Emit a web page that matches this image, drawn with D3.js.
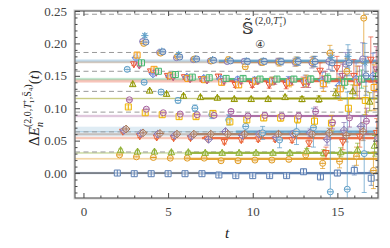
<!DOCTYPE html>
<html>
<head>
<meta charset="utf-8">
<script src="https://cdn.jsdelivr.net/npm/d3@7"></script>
<style>
body { margin: 0; background: #fff; }
</style>
</head>
<body>
<div id="chart"></div>
<script>
// time slices, every series has one point per slice (t = 2 ... 17)
const tSteps = d3.range(2, 18)

// non-interacting levels (dashed)
const freeLevels = [0.0325, 0.0635, 0.094, 0.126, 0.157, 0.186, 0.245]

// fitted levels: value, error, start of fit range
const fitLevels = [0.000, 0.022, 0.031, 0.054, 0.060, 0.064, 0.088, 0.115, 0.142, 0.145, 0.171, 0.173]
const fitErrors = [0.002, 0.0015, 0.0015, 0.002, 0.002, 0.0075, 0.002, 0.0015, 0.003, 0.002, 0.002, 0.003]
const fitStarts = [7, 6, 6, 7, 6.5, 9, 8.5, 7, 8, 8, 8, 8]

// effective energies per series
const blueSq = [0.000, -0.001, -0.001, -0.001, -0.001, -0.001, -0.003, -0.004, -0.004, -0.004, -0.004, 0.002, -0.006, 0.000, 0.004, -0.008]
const blueSqErr = [.001, .001, .001, .001, .001, .001, .001, .001, .001, .002, .002, .003, .003, .004, .007, .011]
const orangeCirc = [0.028, 0.025, 0.024, 0.023, 0.023, 0.023, 0.019, 0.019, 0.020, 0.020, 0.021, 0.028, 0.015, 0.018, 0.026, 0.004]
const orangeCircErr = [.002, .002, .002, .002, .002, .002, .002, .002, .002, .003, .003, .006, .008, .010, .014, .028]
const greenTri = [0.035, 0.033, 0.033, 0.032, 0.032, 0.031, 0.031, 0.031, 0.031, 0.031, 0.031, 0.034, 0.031, 0.032, 0.036, 0.042]
const greenTriErr = [.002, .002, .002, .002, .002, .002, .002, .002, .002, .002, .003, .004, .005, .007, .010, .016]
const redDown = [0.064, 0.057, 0.055, 0.054, 0.054, 0.053, 0.048, 0.051, 0.052, 0.052, 0.051, 0.046, 0.031, 0.048, 0.056, 0.062]
const redDownErr = [.002, .002, .002, .002, .002, .002, .003, .003, .003, .003, .004, .005, .009, .012, .016, .022]
const purpleDia = [0.066, 0.061, 0.060, 0.058, 0.057, 0.052, 0.064, 0.058, 0.060, 0.055, 0.060, 0.062, 0.052, 0.066, 0.072, 0.054]
const purpleDiaErr = [.002, .002, .002, .002, .002, .003, .003, .003, .004, .004, .005, .006, .009, .012, .016, .024]
const brownDia = [0.068, 0.062, 0.061, 0.060, 0.060, 0.060, 0.060, 0.060, 0.060, 0.060, 0.061, 0.060, 0.062, 0.058, 0.064, 0.058]
const brownDiaErr = [.002, .002, .002, .002, .002, .002, .002, .003, .003, .003, .004, .005, .007, .010, .014, .020]
const skyCirc = [0.160, 0.140, 0.125, 0.112, 0.100, 0.090, 0.082, 0.072, 0.062, 0.051, 0.064, 0.070, -0.029, -0.025, 0.030, 0.050]
const skyCircErr = [.003, .003, .004, .004, .005, .006, .008, .010, .010, .012, .020, .030, .090, .150, .060, .080]
const yellowSq = [0.102, 0.093, 0.090, 0.087, 0.087, 0.092, 0.079, 0.082, 0.085, 0.085, 0.083, 0.080, 0.077, 0.100, 0.112, 0.088]
const yellowSqErr = [.002, .002, .002, .002, .003, .003, .003, .004, .004, .005, .006, .008, .012, .016, .022, .035]
const magentaCirc = [0.113, 0.0985, 0.093, 0.091, 0.090, 0.089, 0.095, 0.088, 0.089, 0.088, 0.088, 0.095, 0.078, 0.085, 0.080, 0.092]
const magentaCircErr = [.002, .002, .002, .002, .002, .003, .003, .003, .004, .004, .005, .007, .010, .014, .020, .030]
const oliveTri = [0.137, 0.127, 0.122, 0.119, 0.117, 0.116, 0.114, 0.114, 0.114, 0.117, 0.114, 0.114, 0.123, 0.126, 0.110, 0.130]
const oliveTriErr = [.002, .002, .002, .002, .002, .002, .002, .003, .003, .003, .004, .005, .007, .010, .014, .020]
const redDown2 = [0.168, 0.157, 0.150, 0.148, 0.145, 0.149, 0.136, 0.136, 0.136, 0.136, 0.140, 0.158, 0.162, 0.150, 0.175, 0.120]
const redDown2Err = [.002, .002, .002, .003, .003, .003, .004, .004, .005, .006, .008, .012, .018, .025, .035, .050]
const blueDia = [0.178, 0.153, 0.150, 0.148, 0.146, 0.145, 0.144, 0.143, 0.142, 0.142, 0.142, 0.143, 0.135, 0.145, 0.150, 0.155]
const blueDiaErr = [.003, .003, .003, .003, .003, .004, .004, .005, .006, .007, .009, .012, .018, .025, .035, .050]
const orangeSq = [0.182, 0.160, 0.150, 0.146, 0.144, 0.140, 0.136, 0.142, 0.142, 0.140, 0.142, 0.138, 0.130, 0.140, 0.132, 0.145]
const orangeSqErr = [.003, .003, .003, .003, .003, .004, .004, .005, .006, .007, .009, .012, .018, .025, .035, .050]
const pinkDown = [0.166, 0.155, 0.148, 0.145, 0.143, 0.142, 0.142, 0.142, 0.142, 0.142, 0.140, 0.145, 0.150, 0.140, 0.160, 0.130]
const pinkDownErr = [.002, .002, .002, .003, .003, .003, .004, .004, .005, .006, .008, .012, .018, .025, .035, .050]
const greenSq = [0.170, 0.157, 0.152, 0.148, 0.147, 0.146, 0.146, 0.145, 0.145, 0.145, 0.145, 0.146, 0.140, 0.145, 0.150, 0.140]
const greenSqErr = [.002, .002, .002, .002, .002, .002, .003, .003, .003, .004, .005, .007, .010, .014, .020, .030]
const purpleCirc = [0.203, 0.186, 0.178, 0.175, 0.173, 0.172, 0.172, 0.171, 0.172, 0.171, 0.170, 0.172, 0.168, 0.176, 0.160, 0.172]
const purpleCircErr = [.003, .003, .003, .003, .003, .003, .004, .004, .005, .006, .008, .012, .018, .025, .035, .050]
const orangeTop = [0.200, 0.185, 0.180, 0.176, 0.173, 0.175, 0.164, 0.171, 0.171, 0.172, 0.172, 0.185, 0.157, 0.239, 0.160, 0.180]
const orangeTopErr = [.003, .003, .003, .003, .003, .004, .004, .005, .006, .007, .008, .012, .020, .070, .045, .060]
const skyStar = [0.212, 0.188, 0.183, 0.176, 0.175, 0.174, 0.173, 0.173, 0.172, 0.173, 0.172, 0.178, 0.180, 0.170, 0.185, 0.165]
const skyStarErr = [.003, .003, .003, .003, .003, .003, .004, .004, .005, .006, .008, .012, .018, .030, .045, .060]
const blueCirc = [0.202, 0.187, 0.179, 0.176, 0.174, 0.173, 0.172, 0.172, 0.172, 0.172, 0.172, 0.170, 0.170, 0.150, 0.175, 0.180]
const blueCircErr = [.003, .003, .003, .003, .003, .003, .004, .004, .005, .006, .008, .012, .020, .030, .045, .060]

const series = [
    {vals: blueSq, errs: blueSqErr, slot: 0, color: "#5E81B5", mark: "square"},
    {vals: orangeCirc, errs: orangeCircErr, slot: 2, color: "#E19C24", mark: "circle"},
    {vals: greenTri, errs: greenTriErr, slot: 3, color: "#8FB032", mark: "up"},
    {vals: redDown, errs: redDownErr, slot: 5, color: "#EB6235", mark: "down"},
    {vals: purpleDia, errs: purpleDiaErr, slot: 6, color: "#8778B3", mark: "diamond"},
    {vals: brownDia, errs: brownDiaErr, slot: 8, color: "#A97A5C", mark: "diamond"},
    {vals: skyCirc, errs: skyCircErr, slot: 9, color: "#5D9EC7", mark: "circle"},
    {vals: yellowSq, errs: yellowSqErr, slot: 10, color: "#EDB200", mark: "square"},
    {vals: magentaCirc, errs: magentaCircErr, slot: 11, color: "#A5609D", mark: "circle"},
    {vals: oliveTri, errs: oliveTriErr, slot: 14, color: "#929600", mark: "up"},
    {vals: redDown2, errs: redDown2Err, slot: 15, color: "#E95536", mark: "down"},
    {vals: blueDia, errs: blueDiaErr, slot: 17, color: "#6685D9", mark: "diamond"},
    {vals: orangeSq, errs: orangeSqErr, slot: 18, color: "#F89F13", mark: "square"},
    {vals: pinkDown, errs: pinkDownErr, slot: 20, color: "#BC5B80", mark: "down"},
    {vals: greenSq, errs: greenSqErr, slot: 22, color: "#47B66D", mark: "square"},
    {vals: purpleCirc, errs: purpleCircErr, slot: 23, color: "#8778B3", mark: "circle"},
    {vals: orangeTop, errs: orangeTopErr, slot: 24, color: "#E19C24", mark: "circle"},
    {vals: skyStar, errs: skyStarErr, slot: 25, color: "#5D9EC7", mark: "star"},
    {vals: blueCirc, errs: blueCircErr, slot: 26, color: "#5E81B5", mark: "circle"}
]
const fitColors = ["#5E81B5", "#E19C24", "#8FB032", "#EB6235", "#A97A5C", "#5D9EC7", "#A5609D", "#929600", "#E95536", "#47B66D", "#B98A64", "#5D9EC7"]

const serif = "'Liberation Serif', 'Times New Roman', serif"

const outerWidth = 390
const outerHeight = 248
const margin = {top: 11, right: 12, bottom: 50, left: 75}
const w = outerWidth - margin.left - margin.right
const h = outerHeight - margin.top - margin.bottom

const svg = d3.select("#chart")
    .append("svg")
    .attr("width", outerWidth)
    .attr("height", outerHeight)

const g = svg.append("g")
    .attr("transform", `translate(${margin.left}, ${margin.top})`)

g.append("clipPath")
    .attr("id", "clip")
    .append("rect")
    .attr("width", w)
    .attr("height", h)

const xScale = d3.scaleLinear().domain([-0.5, 17.4]).range([0, w])
const yScale = d3.scaleLinear().domain([-0.0385, 0.25]).range([h, 0])

const plot = g.append("g").attr("clip-path", "url(#clip)")

const fits = fitLevels.map((v, i) => ({v, e: fitErrors[i], from: fitStarts[i], color: fitColors[i]}))

// error bands across the whole plot
plot.selectAll(".band")
    .data(fits)
    .enter()
    .append("rect")
    .attr("class", "band")
    .attr("x", 0)
    .attr("width", w)
    .attr("y", d => yScale(d.v + d.e))
    .attr("height", d => yScale(d.v - d.e) - yScale(d.v + d.e))
    .attr("fill", d => d.color)
    .attr("opacity", 0.2)

plot.selectAll(".fitline")
    .data(fits)
    .enter()
    .append("line")
    .attr("class", "fitline")
    .attr("x1", 0).attr("x2", w)
    .attr("y1", d => yScale(d.v)).attr("y2", d => yScale(d.v))
    .attr("stroke", d => d.color)
    .attr("stroke-width", 1)
    .attr("opacity", 0.35)

// axis line at zero
plot.append("line")
    .attr("x1", 0).attr("x2", w)
    .attr("y1", yScale(0)).attr("y2", yScale(0))
    .attr("stroke", "#3b3b3b")
    .attr("stroke-width", 1)

plot.selectAll(".free")
    .data(freeLevels)
    .enter()
    .append("line")
    .attr("class", "free")
    .attr("x1", 0).attr("x2", w)
    .attr("y1", d => yScale(d)).attr("y2", d => yScale(d))
    .attr("stroke", "#9a9a9a")
    .attr("stroke-width", 1)
    .attr("stroke-dasharray", "5,3.5")

plot.selectAll(".fitrange")
    .data(fits)
    .enter()
    .append("line")
    .attr("class", "fitrange")
    .attr("x1", d => xScale(d.from)).attr("x2", w)
    .attr("y1", d => yScale(d.v)).attr("y2", d => yScale(d.v))
    .attr("stroke", d => d.color)
    .attr("stroke-width", 2.2)
    .attr("opacity", 0.85)

// marker shapes
function markPath(kind, r) {
    if (kind === "square") return `M${-r},${-r}H${r}V${r}H${-r}Z M0,${-r}V${r}`
    if (kind === "circle") return `M${r},0A${r},${r} 0 1,1 ${-r},0A${r},${r} 0 1,1 ${r},0Z M${-r},0H${r}`
    if (kind === "up") return `M0,${-r * 1.2}L${r * 1.1},${r * 0.8}L${-r * 1.1},${r * 0.8}Z M0,${-r * 1.2}V${r * 0.8}`
    if (kind === "down") return `M0,${r * 1.2}L${r * 1.1},${-r * 0.8}L${-r * 1.1},${-r * 0.8}Z M0,${r * 1.2}V${-r * 0.8}`
    if (kind === "diamond") return `M0,${-r * 1.3}L${r * 1.3},0L0,${r * 1.3}L${-r * 1.3},0Z M${-r * 1.3},0H${r * 1.3}M0,${-r * 1.3}V${r * 1.3}`
    const s = r * 1.2
    return `M${-s},0H${s}M0,${-s}V${s}M${-s * 0.7},${-s * 0.7}L${s * 0.7},${s * 0.7}M${-s * 0.7},${s * 0.7}L${s * 0.7},${-s * 0.7}`
}

const points = []
series.forEach(s => {
    s.vals.forEach((v, i) => {
        if (v === null) return
        points.push({t: tSteps[i] + s.slot * 0.065, v, e: s.errs[i], color: s.color, mark: s.mark})
    })
})

plot.selectAll(".err")
    .data(points)
    .enter()
    .append("path")
    .attr("class", "err")
    .attr("d", d => {
        const x = xScale(d.t), y0 = yScale(d.v - d.e), y1 = yScale(d.v + d.e)
        return `M${x},${y0}V${y1}M${x - 2.5},${y0}H${x + 2.5}M${x - 2.5},${y1}H${x + 2.5}`
    })
    .attr("stroke", d => d.color)
    .attr("stroke-width", 0.9)
    .attr("fill", "none")
    .attr("opacity", 0.8)

plot.selectAll(".pt")
    .data(points)
    .enter()
    .append("path")
    .attr("class", "pt")
    .attr("transform", d => `translate(${xScale(d.t)}, ${yScale(d.v)})`)
    .attr("d", d => markPath(d.mark, 3))
    .attr("fill", "#fff")
    .attr("fill-opacity", 0.55)
    .attr("stroke", d => d.color)
    .attr("stroke-width", 1)

// frame
g.append("rect")
    .attr("x", -0.5).attr("y", -0.5)
    .attr("width", w + 1)
    .attr("height", h + 1)
    .attr("fill", "none")
    .attr("stroke", "#d4d4d4")
    .attr("stroke-width", 2)
g.append("rect")
    .attr("width", w)
    .attr("height", h)
    .attr("fill", "none")
    .attr("stroke", "#555")
    .attr("stroke-width", 1)

const yMajor = d3.range(0, 0.251, 0.05)
const yMinor = d3.range(-0.03, 0.251, 0.01).filter(v => Math.abs(Math.round(v * 100) % 5) !== 0)
const xMajor = [0, 5, 10, 15]
const xMinor = d3.range(0, 18).filter(v => v % 5 !== 0)

function styleAxis(sel) {
    sel.attr("font-family", null).attr("font-size", null)
    sel.select(".domain").remove()
    sel.selectAll("line").attr("stroke", "#4a4a4a")
    sel.selectAll("text")
        .attr("fill", "#444")
        .style("font-size", "13px")
        .style("font-family", serif)
}

g.append("g").call(d3.axisLeft(yScale).tickValues(yMajor).tickSize(-5).tickPadding(8).tickFormat(d3.format(".2f"))).call(styleAxis)
g.append("g").call(d3.axisLeft(yScale).tickValues(yMinor).tickSize(-2.5).tickFormat("")).call(styleAxis)
g.append("g").attr("transform", `translate(${w},0)`).call(d3.axisRight(yScale).tickValues(yMajor).tickSize(-5).tickFormat("")).call(styleAxis)
g.append("g").attr("transform", `translate(${w},0)`).call(d3.axisRight(yScale).tickValues(yMinor).tickSize(-2.5).tickFormat("")).call(styleAxis)
g.append("g").attr("transform", `translate(0,${h})`).call(d3.axisBottom(xScale).tickValues(xMajor).tickSize(-5).tickPadding(9).tickFormat(d3.format("d"))).call(styleAxis)
g.append("g").attr("transform", `translate(0,${h})`).call(d3.axisBottom(xScale).tickValues(xMinor).tickSize(-2.5).tickFormat("")).call(styleAxis)
g.append("g").call(d3.axisTop(xScale).tickValues(xMajor).tickSize(-5).tickFormat("")).call(styleAxis)
g.append("g").call(d3.axisTop(xScale).tickValues(xMinor).tickSize(-2.5).tickFormat("")).call(styleAxis)

// axis titles
svg.append("text")
    .attr("x", 227)
    .attr("y", 238)
    .attr("text-anchor", "middle")
    .style("font-family", serif)
    .style("font-size", "15px")
    .style("font-style", "italic")
    .attr("fill", "#222")
    .text("t")

const yl = svg.append("text")
    .attr("transform", "translate(39,108) rotate(-90)")
    .attr("text-anchor", "middle")
    .style("font-family", serif)
    .style("font-size", "15px")
    .attr("fill", "#222")
yl.append("tspan").text("Δ")
yl.append("tspan").style("font-style", "italic").text("E")
yl.append("tspan").style("font-size", "10px").style("font-style", "italic").attr("dy", 4).text("n")
yl.append("tspan").style("font-size", "10px").attr("dx", -5).attr("dy", -12).text("(2,0,")
yl.append("tspan").style("font-size", "10px").style("font-style", "italic").text("T")
yl.append("tspan").style("font-size", "7px").attr("dy", 3).text("1")
yl.append("tspan").style("font-size", "7px").attr("dx", -3.5).attr("dy", -7).text("+")
yl.append("tspan").style("font-size", "10px").attr("dy", 4).text(",S\u0304")
yl.append("tspan").style("font-size", "7px").attr("dy", 2).text("4")
yl.append("tspan").style("font-size", "10px").attr("dy", -2).text(")")
yl.append("tspan").attr("dy", 8).text("(")
yl.append("tspan").style("font-style", "italic").text("t")
yl.append("tspan").text(")")

// operator annotation
const ann = svg.append("g").attr("fill", "#333")
ann.append("text")
    .attr("x", 242).attr("y", 34)
    .style("font-size", "16px")
    .style("font-family", "'DejaVu Serif', serif")
    .text("\u{1D54A}\u0303")
const annSup = ann.append("text")
    .attr("x", 255).attr("y", 24)
    .style("font-family", serif)
    .style("font-size", "10px")
annSup.append("tspan").text("(2,0,")
annSup.append("tspan").style("font-style", "italic").text("T")
annSup.append("tspan").style("font-size", "7px").attr("dy", 3).text("1")
annSup.append("tspan").style("font-size", "7px").attr("dx", -3.5).attr("dy", -7).text("+")
annSup.append("tspan").attr("dy", 4).text(")")
ann.append("text")
    .attr("x", 255).attr("y", 48)
    .style("font-size", "11px")
    .style("font-family", "'DejaVu Sans', sans-serif")
    .text("\u2463")
</script>
</body>
</html>
